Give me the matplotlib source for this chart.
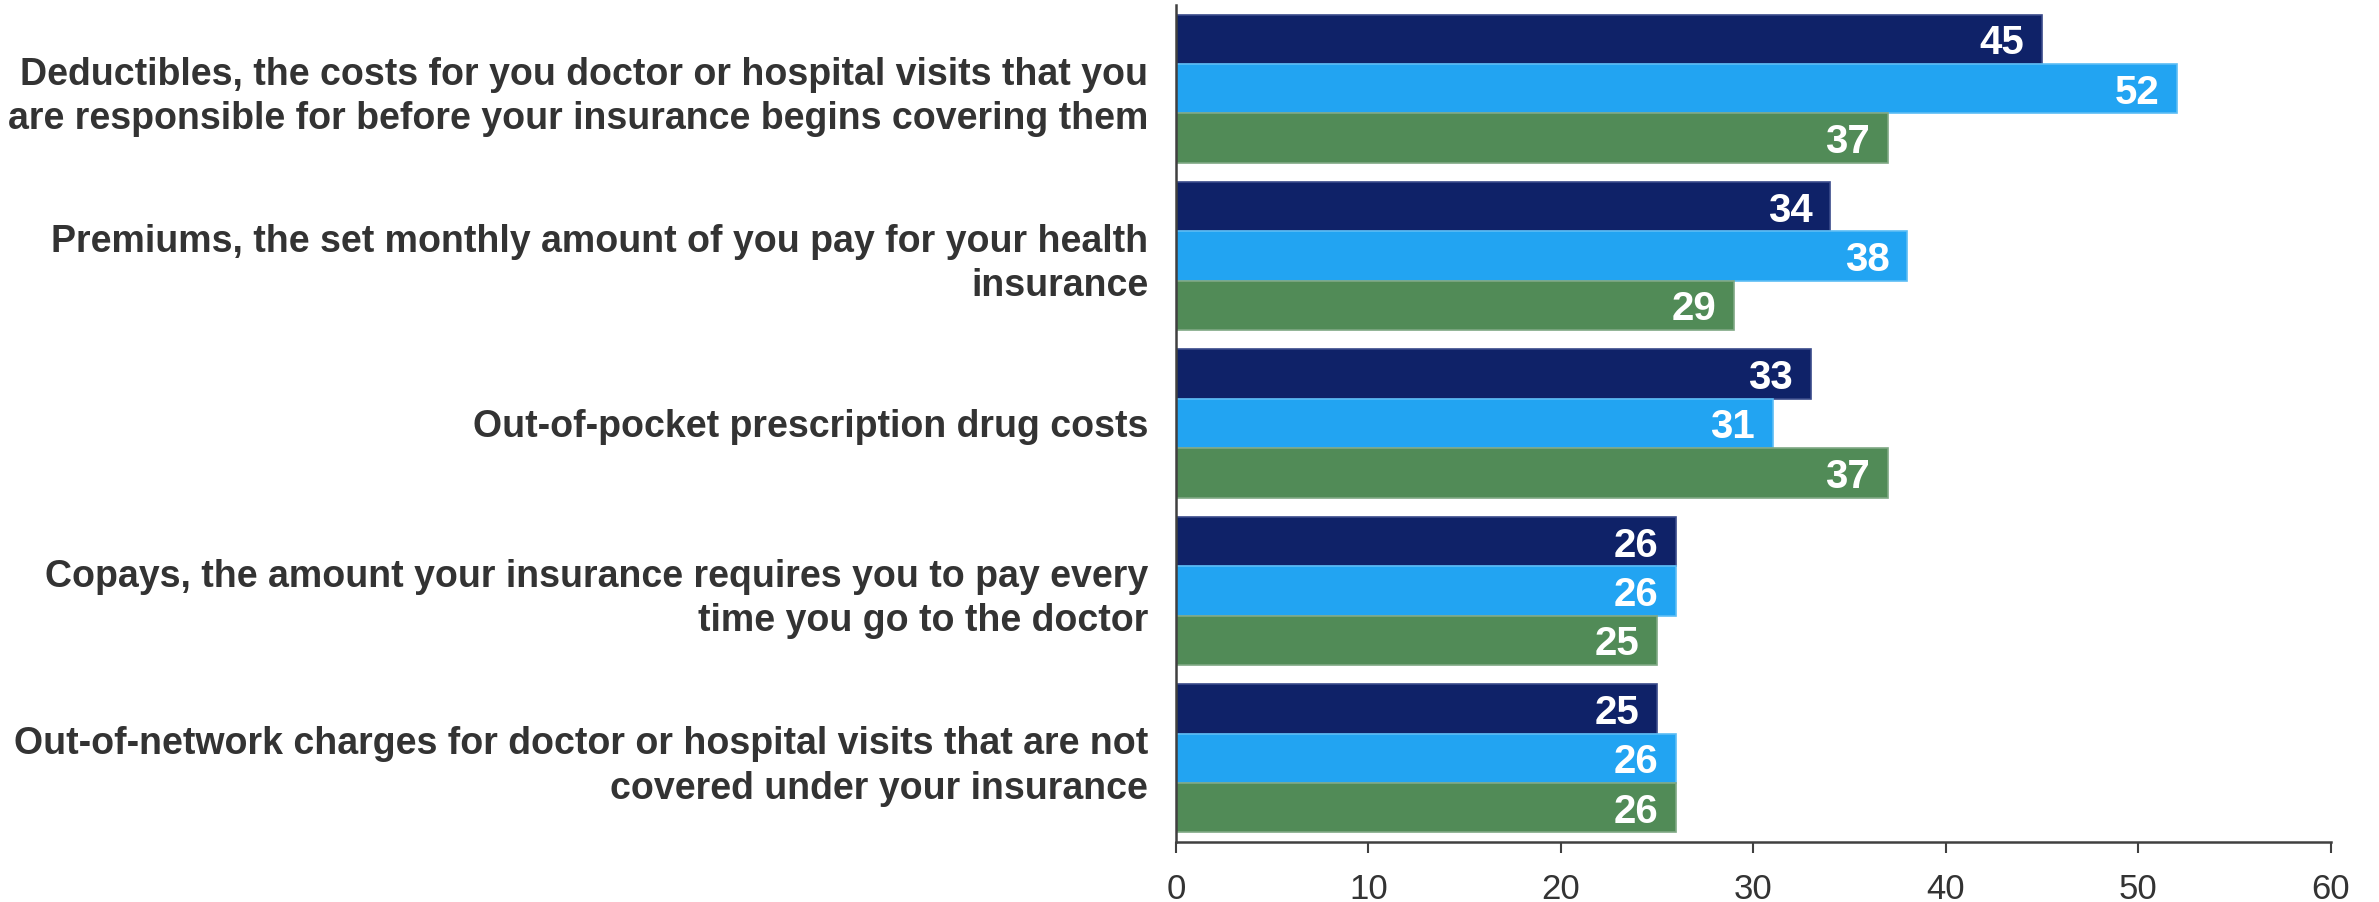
import matplotlib
matplotlib.use("Agg")
import matplotlib.pyplot as plt
import numpy as np

plt.rcParams['font.family'] = ['Liberation Sans', 'DejaVu Sans']

categories = [
    "Deductibles, the costs for you doctor or hospital visits that you\nare responsible for before your insurance begins covering them",
    "Premiums, the set monthly amount of you pay for your health\ninsurance",
    "Out-of-pocket prescription drug costs",
    "Copays, the amount your insurance requires you to pay every\ntime you go to the doctor",
    "Out-of-network charges for doctor or hospital visits that are not\ncovered under your insurance",
]
series_1 = [45, 34, 33, 26, 25]
series_2 = [52, 38, 31, 26, 26]
series_3 = [37, 29, 37, 25, 26]
x_ticks = [0, 10, 20, 30, 40, 50, 60]

colors = ["#0F2268", "#22A4F2", "#518B57"]
edge_colors = ["#3A4A8A", "#5CBDF5", "#7FA884"]
text_color = "#333333"

fig = plt.figure(figsize=(23.79, 9.02), dpi=100)
ax = fig.add_axes([0.4943, 0.0665, 0.4855, 0.9280])

y = np.arange(len(categories))
h = 0.295
for i, (vals, c, ec) in enumerate(zip([series_1, series_2, series_3], colors, edge_colors)):
    pos = y + (i - 1) * h
    ax.barh(pos, vals, height=h, color=c, edgecolor=ec, linewidth=1.2)
    for p, v in zip(pos, vals):
        ax.text(v - 0.93, p, f"{v}", ha="right", va="center_baseline",
                color="white", fontsize=29, fontweight="bold")

ax.set_xlim(0, 60)
ax.set_ylim(4.5, -0.5)
ax.set_yticks(y)
ax.set_yticklabels(categories, fontsize=27, fontweight="bold", color=text_color,
                   linespacing=1.3)
ax.tick_params(axis="y", length=0, pad=20)
ax.set_xticks(x_ticks)
ax.tick_params(axis="x", direction="out", length=8, width=1.5, colors="#404040",
               labelsize=25, labelcolor=text_color, pad=14)

for side in ["top", "right"]:
    ax.spines[side].set_visible(False)
for side in ["left", "bottom"]:
    ax.spines[side].set_color("#404040")
    ax.spines[side].set_linewidth(1.8)

fig.savefig("out.png", dpi=100)
